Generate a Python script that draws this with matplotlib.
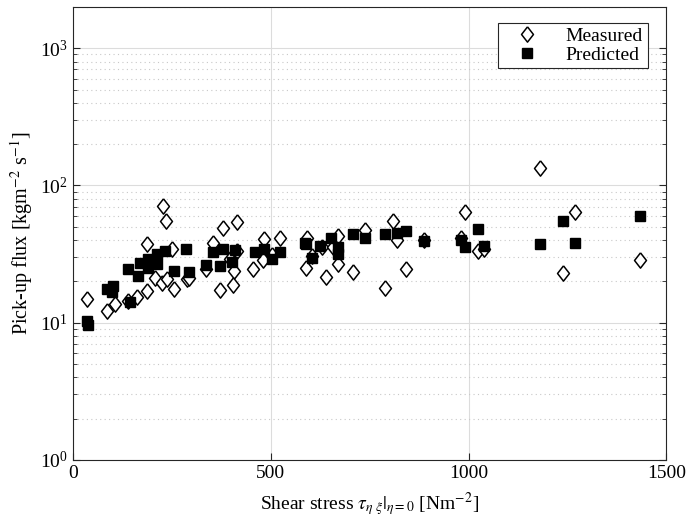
import matplotlib
matplotlib.use('Agg')
import matplotlib.pyplot as plt
from matplotlib.ticker import LogLocator, LogFormatterMathtext, NullFormatter

plt.rcParams['font.family'] = ['Liberation Serif', 'DejaVu Serif']
plt.rcParams['mathtext.fontset'] = 'stix'

# measured pick-up flux (diamonds)
meas_x = [35, 85, 106, 140, 161, 186, 188, 207, 224, 237, 228, 235, 250, 256,
          288, 294, 336, 355, 372, 380, 397, 406, 405, 414, 414, 456, 483, 481,
          504, 524, 589, 591, 604, 640, 629, 658, 671, 669, 709, 739, 789, 809,
          819, 842, 888, 981, 991, 1024, 1040, 1180, 1240, 1270, 1434]
meas_y = [14.9, 12.2, 13.7, 14.4, 15.3, 17.1, 37.6, 21.3, 19.6, 20.7, 70.4, 55.5,
          34.2, 17.5, 20.7, 21.1, 24.5, 38.2, 17.3, 49.1, 28.9, 23.8, 18.8, 53.9,
          33.2, 24.7, 40.8, 28.6, 31.1, 41.5, 25.2, 41.5, 30.5, 21.6, 35.3, 35.3,
          42.7, 26.6, 23.4, 47.7, 18.0, 55.0, 40.3, 24.5, 40.3, 41.5, 64.1, 33.2,
          34.2, 135, 23.0, 64.5, 28.7]

# predicted pick-up flux (squares)
pred_x = [35, 38, 85, 102, 98, 144, 140, 165, 169, 190, 190, 212, 212, 233,
          256, 286, 292, 336, 355, 380, 372, 401, 410, 459, 483, 504, 524, 587,
          590, 604, 625, 652, 671, 671, 709, 739, 789, 819, 842, 888, 981, 991,
          1024, 1040, 1180, 1240, 1270, 1434]
pred_y = [10.3, 9.6, 17.5, 18.5, 16.6, 14.1, 24.5, 21.9, 27.4, 28.9, 25.2, 31.4,
          26.6, 33.2, 23.8, 34.2, 23.2, 26.3, 32.9, 34.2, 25.9, 27.8, 33.6, 32.9,
          34.2, 28.9, 32.9, 38.2, 37.2, 29.7, 36.0, 41.5, 31.4, 35.3, 44.6, 41.5,
          44.6, 45.2, 46.9, 39.4, 40.3, 35.6, 48.3, 36.0, 37.2, 55.0, 38.2, 60.1]

diamond = [(0, 1), (0.78, 0), (0, -1), (-0.78, 0), (0, 1)]

fig = plt.figure(figsize=(6.89, 5.31), dpi=100)
ax = fig.add_axes([0.106, 0.134, 0.861, 0.853])

ax.plot(meas_x, meas_y, linestyle='none', marker=diamond, markersize=11,
        markerfacecolor='white', markeredgecolor='black', markeredgewidth=1.1,
        label='Measured')
ax.plot(pred_x, pred_y, linestyle='none', marker='s', markersize=7,
        markerfacecolor='black', markeredgecolor='black', label='Predicted')

ax.set_yscale('log')
ax.set_xlim(0, 1500)
ax.set_ylim(1, 2000)
ax.set_xticks([0, 500, 1000, 1500])
ax.yaxis.set_major_locator(LogLocator(base=10, numticks=10))
ax.yaxis.set_major_formatter(LogFormatterMathtext())
ax.yaxis.set_minor_locator(LogLocator(base=10, subs=range(2, 10), numticks=20))
ax.yaxis.set_minor_formatter(NullFormatter())

ax.grid(True, which='major', color='#dcdcdc', linewidth=0.8, linestyle='-')
ax.grid(True, which='minor', axis='y', color='#c8c8c8', linewidth=0.8, linestyle=(0, (1, 3)))
ax.set_axisbelow(True)

for s in ax.spines.values():
    s.set_color('#262626')
    s.set_linewidth(0.8)
ax.tick_params(which='both', direction='in', top=False, right=True, colors='#262626',
               labelsize=14, labelcolor='black')
ax.tick_params(which='major', length=5)
ax.tick_params(which='minor', length=3)

ax.set_xlabel(r'Shear stress $\tau_{\eta\ \xi}|_{\eta=0}$ [Nm$^{-2}$]', fontsize=14,
              labelpad=6)
ax.set_ylabel(r'Pick-up flux [kgm$^{-2}$ s$^{-1}$]', fontsize=14.5)

leg = ax.legend(loc='upper right', bbox_to_anchor=(0.985, 0.987), fontsize=14,
                frameon=True, fancybox=False, framealpha=1, edgecolor='#262626',
                handlelength=2.4, handletextpad=0.8, borderpad=0.25, labelspacing=0.05)
leg.get_frame().set_linewidth(0.8)

fig.savefig('out.png', dpi=100)
